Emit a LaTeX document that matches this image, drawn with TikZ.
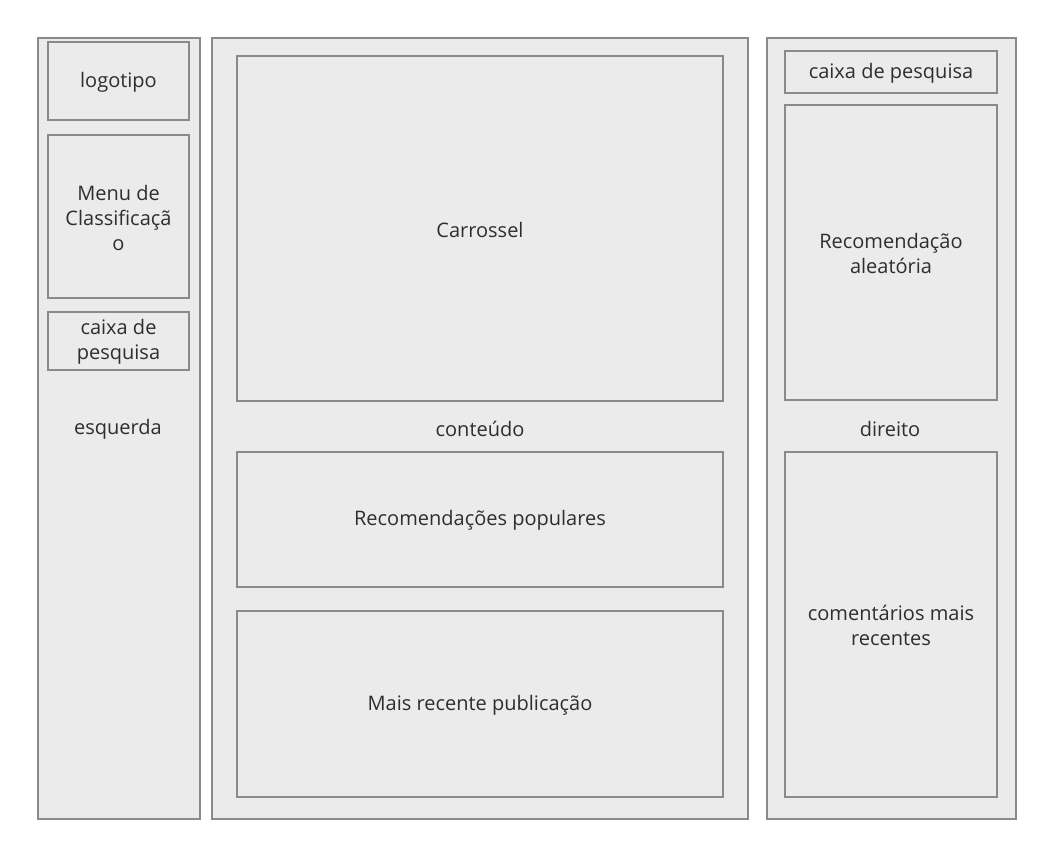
\documentclass[tikz,border=0pt]{standalone}
\usepackage{fontspec}
\setmainfont{Open Sans}
\usetikzlibrary{fit}
\definecolor{boxfill}{HTML}{EBEBEB}
\definecolor{boxline}{HTML}{8A8A8A}
\definecolor{txt}{HTML}{2E2E2E}
\tikzset{
  panel/.style={draw=boxline, fill=boxfill, line width=1.9pt, inner sep=0pt},
  lbl/.style={text=txt, font=\fontsize{15}{18.75}\selectfont, inner sep=0pt, align=center, yshift=-0.8pt}
}
\begin{document}
\begin{tikzpicture}[x=0.75pt, y=-0.75pt]
\useasboundingbox (0,0) rectangle (1053,856);
% outer panels
\node[panel, fit={(38,38) (200,819)}] (left) {};
\node[panel, fit={(212,38) (748,819)}] (mid) {};
\node[panel, fit={(767,38) (1016,819)}] (right) {};
% left column
\node[panel, fit={(48,42) (189,120)}] (logo) {};
\node[lbl] at (logo.center) {logotipo};
\node[panel, fit={(48,135) (189,298)}] (menu) {};
\node[lbl] at (menu.center) {Menu de\\Classificaçã\\o};
\node[panel, fit={(48,312) (189,370)}] (searchL) {};
\node[lbl] at (searchL.center) {caixa de\\pesquisa};
\node[lbl] (esq) at (118,428) {esquerda};
% middle column
\node[panel, fit={(237,56) (723,401)}] (car) {};
\node[lbl] at (car.center) {Carrossel};
\node[lbl] (cont) at (480,428) {conteúdo};
\node[panel, fit={(237,452) (723,587)}] (pop) {};
\node[lbl] at (pop.center) {Recomendações populares};
\node[panel, fit={(237,611) (723,797)}] (rec) {};
\node[lbl] at (rec.center) {Mais recente publicação};
% right column
\node[panel, fit={(785,51) (997,93)}] (searchR) {};
\node[lbl] at (searchR.center) {caixa de pesquisa};
\node[panel, fit={(785,105) (997,400)}] (rand) {};
\node[lbl] at (rand.center) {Recomendação\\aleatória};
\node[lbl] (dir) at (890,428) {direito};
\node[panel, fit={(785,452) (997,797)}] (com) {};
\node[lbl] at (com.center) {comentários mais\\recentes};
\end{tikzpicture}
\end{document}
